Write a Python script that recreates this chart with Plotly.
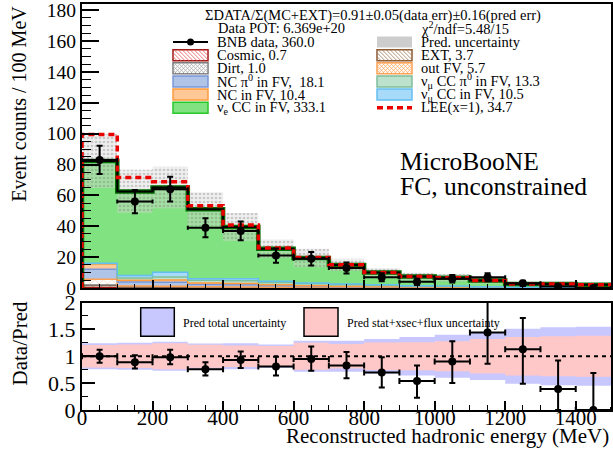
import numpy as np
import plotly.graph_objects as go

# ---------------- data ----------------
bin_edges = [0, 100, 200, 300, 400, 500, 600, 700, 800, 900, 1000, 1100, 1200, 1300, 1400, 1500]
bin_centers = [50, 150, 250, 350, 450, 550, 650, 750, 850, 950, 1050, 1150, 1250, 1350, 1450]
bin_half_width = [50] * 15

cosmic = [0.2, 0.1, 0.1, 0.05, 0.05, 0.05, 0.05, 0.02, 0.02, 0.02, 0.01, 0.01, 0.01, 0.005, 0.005]
ext = [1.5, 0.5, 0.5, 0.3, 0.3, 0.2, 0.1, 0.1, 0.05, 0.05, 0.03, 0.03, 0.02, 0.01, 0.01]
dirt = [0.3, 0.15, 0.15, 0.1, 0.08, 0.06, 0.05, 0.04, 0.03, 0.02, 0.01, 0.01, 0.0, 0.0, 0.0]
out_fv = [3.6, 0.6, 0.4, 0.3, 0.2, 0.15, 0.1, 0.1, 0.08, 0.05, 0.04, 0.03, 0.02, 0.02, 0.01]
nc_pi0 = [6.5, 2.5, 2.5, 1.5, 1.5, 1.0, 0.7, 0.5, 0.4, 0.3, 0.3, 0.2, 0.1, 0.1, 0.0]
nc = [3.5, 1.2, 1.5, 1.0, 0.8, 0.6, 0.5, 0.4, 0.3, 0.2, 0.15, 0.1, 0.05, 0.05, 0.05]
numu_cc_pi0 = [0.3, 1.5, 2.0, 1.8, 1.8, 1.5, 1.2, 1.0, 0.8, 0.5, 0.4, 0.2, 0.15, 0.1, 0.05]
numu_cc = [0.2, 1.5, 3.0, 1.0, 1.2, 0.8, 0.6, 0.5, 0.4, 0.3, 0.3, 0.3, 0.2, 0.1, 0.1]
nue_cc = [66.2, 54.5, 54.9, 45.0, 33.6, 21.1, 16.2, 12.3, 7.9, 6.0, 5.4, 3.9, 2.1, 2.2, 1.8]
lee = [17.2, 9.0, 3.8, 2.3, 1.3, 0.5, 0.3, 0.1, 0.1, 0.05, 0.05, 0.0, 0.0, 0.0, 0.0]
pred_unc = [17.5, 14.0, 13.5, 11.0, 9.0, 6.0, 6.0, 4.0, 3.0, 2.5, 2.5, 2.0, 1.3, 1.4, 1.1]

data_counts = [83, 56, 64, 39, 37, 21, 19, 13, 7, 4, 6, 7, 3, 1, 0]
data_err = [9.1, 7.5, 8.0, 6.2, 6.1, 4.6, 4.4, 3.6, 2.6, 2.0, 2.4, 2.6, 1.7, 1.0, 0.0]

ratio_vals = [1.00, 0.89, 0.98, 0.76, 0.93, 0.81, 0.95, 0.83, 0.70, 0.54, 0.90, 1.44, 1.13, 0.39, 0.00]
ratio_err_hi = [0.12, 0.13, 0.14, 0.13, 0.16, 0.18, 0.23, 0.25, 0.28, 0.29, 0.38, 0.60, 0.58, 0.53, 0.69]
ratio_err_lo = [0.12, 0.12, 0.13, 0.12, 0.15, 0.17, 0.22, 0.24, 0.28, 0.31, 0.40, 0.58, 0.64, 0.39, 0.00]
total_unc_rel = [0.24, 0.25, 0.27, 0.235, 0.24, 0.22, 0.29, 0.29, 0.32, 0.36, 0.40, 0.44, 0.51, 0.54, 0.55]
stat_xs_flux_unc_rel = [0.21, 0.22, 0.24, 0.215, 0.20, 0.19, 0.25, 0.23, 0.255, 0.26, 0.28, 0.32, 0.36, 0.37, 0.38]

header_text = "ΣDATA/Σ(MC+EXT)=0.91±0.05(data err)±0.16(pred err)"
pot_text = "Data POT: 6.369e+20"
chi2_text = "χ<sup>2</sup>/ndf=5.48/15"
left_labels = ["BNB data, 360.0", "Cosmic, 0.7", "Dirt, 1.0", "NC π<sup>0</sup> in FV,  18.1",
               "NC in FV, 10.4", "ν<sub>e</sub> CC in FV, 333.1"]
right_labels = ["Pred. uncertainty", "EXT, 3.7", "out FV, 5.7", "ν<sub>μ</sub> CC π<sup>0</sup> in FV, 13.3",
                "ν<sub>μ</sub> CC in FV, 10.5", "LEE(x=1), 34.7"]

# ---------------- helpers ----------------
FONT = "Liberation Serif"
W, H = 613, 455
L, R, T, B = 82, 611, 4, 410


def px(x):
    return (x - L) / (R - L)


def py(y):
    return (B - y) / (B - T)


def step(vals):
    v = list(vals)
    return v + [v[-1]]


fig = go.Figure()

components = [
    ("Cosmic", cosmic, "rgb(230,80,80)", "rgb(160,20,20)", "\\", 2.0),
    ("EXT", ext, "rgb(160,115,80)", "rgb(140,90,50)", "\\", 1.5),
    ("Dirt", dirt, "rgb(150,150,150)", "rgb(120,120,120)", "x", 1.5),
    ("out FV", out_fv, "rgb(255,160,80)", "rgb(255,160,80)", "x", 1.5),
    ("NC pi0", nc_pi0, "rgb(176,196,232)", "rgb(120,150,215)", None, 1.5),
    ("NC", nc, "rgb(255,200,150)", "rgb(255,155,60)", None, 1.5),
    ("numu CC pi0", numu_cc_pi0, "rgb(188,226,206)", "rgb(125,190,155)", None, 1.5),
    ("numu CC", numu_cc, "rgb(168,218,250)", "rgb(100,190,240)", None, 1.5),
    ("nue CC", nue_cc, "rgb(128,226,128)", "rgb(128,226,128)", None, 0.0),
]

for name, vals, fc, lc, pat, lw in components:
    kw = dict(x=bin_edges, y=step(vals), mode="lines", stackgroup="mc",
              line=dict(shape="hv", color=lc, width=lw), name=name,
              xaxis="x", yaxis="y", showlegend=False, hoverinfo="skip")
    if pat:
        kw["fillpattern"] = dict(shape=pat, fgcolor=fc, bgcolor="white", size=6, solidity=0.2)
    else:
        kw["fillcolor"] = fc
    fig.add_trace(go.Scatter(**kw))

pred_total = np.sum([c[1] for c in components], axis=0)
band_lo = pred_total - np.array(pred_unc)
band_hi = pred_total + np.array(pred_unc)

fig.add_trace(go.Scatter(x=bin_edges, y=step(band_lo), mode="lines", line=dict(shape="hv", width=0),
                         xaxis="x", yaxis="y", showlegend=False, hoverinfo="skip"))
fig.add_trace(go.Scatter(x=bin_edges, y=step(band_hi), mode="lines", line=dict(shape="hv", width=0),
                         fill="tonexty",
                         fillpattern=dict(shape=".", fgcolor="rgba(110,110,110,0.6)",
                                          bgcolor="rgba(215,215,215,0.4)", size=4, solidity=0.35),
                         xaxis="x", yaxis="y", showlegend=False, hoverinfo="skip"))

line_x = [bin_edges[0]] + bin_edges
fig.add_trace(go.Scatter(x=line_x, y=[0] + step(pred_total), mode="lines",
                         line=dict(shape="hv", color="rgb(0,110,0)", width=4.5),
                         xaxis="x", yaxis="y", showlegend=False, hoverinfo="skip"))
fig.add_trace(go.Scatter(x=line_x, y=[0] + step(pred_total), mode="lines",
                         line=dict(shape="hv", color="black", width=2),
                         xaxis="x", yaxis="y", showlegend=False, hoverinfo="skip"))
fig.add_trace(go.Scatter(x=line_x, y=[0] + step(pred_total + np.array(lee)), mode="lines",
                         line=dict(shape="hv", color="rgb(235,0,0)", width=3.5, dash="6px,4px"),
                         xaxis="x", yaxis="y", showlegend=False, hoverinfo="skip"))

fig.add_trace(go.Scatter(x=bin_centers, y=data_counts, mode="markers",
                         marker=dict(color="black", size=8),
                         error_x=dict(type="data", array=bin_half_width, color="black", thickness=2, width=2),
                         error_y=dict(type="data", array=data_err, color="black", thickness=2, width=3),
                         xaxis="x", yaxis="y", showlegend=False, hoverinfo="skip"))

# ---------------- ratio panel ----------------
for rel, col in [(total_unc_rel, "rgb(200,200,255)"), (stat_xs_flux_unc_rel, "rgb(255,200,200)")]:
    lo = 1 - np.array(rel)
    hi = 1 + np.array(rel)
    fig.add_trace(go.Scatter(x=bin_edges, y=step(lo), mode="lines", line=dict(shape="hv", width=0),
                             xaxis="x2", yaxis="y2", showlegend=False, hoverinfo="skip"))
    fig.add_trace(go.Scatter(x=bin_edges, y=step(hi), mode="lines", line=dict(shape="hv", width=0),
                             fill="tonexty", fillcolor=col,
                             xaxis="x2", yaxis="y2", showlegend=False, hoverinfo="skip"))

fig.add_trace(go.Scatter(x=bin_centers, y=ratio_vals, mode="markers",
                         marker=dict(color="black", size=8),
                         error_x=dict(type="data", array=bin_half_width, color="black", thickness=2, width=3),
                         error_y=dict(type="data", symmetric=False, array=ratio_err_hi,
                                      arrayminus=ratio_err_lo, color="black", thickness=2, width=3),
                         xaxis="x2", yaxis="y2", showlegend=False, hoverinfo="skip", cliponaxis=True))

# ---------------- shapes / annotations ----------------
shapes = [dict(type="line", xref="x2", yref="y2", x0=bin_edges[0], x1=bin_edges[-1], y0=1, y1=1,
               line=dict(color="black", width=2, dash="4px,4px"), layer="above")]
annotations = []


def hatch_path(x0, y0, x1, y1, spacing, kind):
    h = y1 - y0
    segs = []
    dirs = ["\\", "/"] if kind == "x" else [kind]
    for d in dirs:
        s = x0 - h
        while s < x1:
            tmin = max(0.0, (x0 - s) / h)
            tmax = min(1.0, (x1 - s) / h)
            if tmax > tmin:
                if d == "\\":
                    ax, ay, bx, by = s + h * tmin, y0 + h * tmin, s + h * tmax, y0 + h * tmax
                else:
                    ax, ay, bx, by = s + h * tmin, y1 - h * tmin, s + h * tmax, y1 - h * tmax
                segs.append(f"M{px(ax):.5f},{py(ay):.5f} L{px(bx):.5f},{py(by):.5f}")
            s += spacing
    return " ".join(segs)


def text(x, y, s, size=14.5, anchor="left", angle=0, yanchor="middle"):
    annotations.append(dict(xref="paper", yref="paper", x=px(x), y=py(y), text=s, showarrow=False,
                            xanchor=anchor, yanchor=yanchor, textangle=angle,
                            font=dict(family=FONT, size=size, color="black")))


def box(x0, x1, yc, fill, border, bw=1.5, pat=None, patcol=None, hh=5.5):
    y0, y1 = yc - hh, yc + hh
    shapes.append(dict(type="rect", xref="paper", yref="paper", x0=px(x0), x1=px(x1), y0=py(y1), y1=py(y0),
                       fillcolor=fill, line=dict(color=border, width=bw), layer="above"))
    if pat:
        shapes.append(dict(type="path", xref="paper", yref="paper", path=hatch_path(x0, y0, x1, y1, 4, pat),
                           line=dict(color=patcol, width=0.8), layer="above"))


rows = [42 + 13.15 * i for i in range(6)]
LX0, LX1, RX0, RX1 = 173, 208, 377, 412
LT, RT = 215, 419

text(203, 15, header_text)
text(216, 28.5, pot_text)
text(RT, 28.5, chi2_text)

# BNB data swatch: horizontal line with a dot
shapes.append(dict(type="rect", xref="paper", yref="paper", x0=px(LX0), x1=px(LX1),
                   y0=py(rows[0] + 1.1), y1=py(rows[0] - 1.1),
                   fillcolor="black", line=dict(color="black", width=0), layer="above"))
shapes.append(dict(type="circle", xref="paper", yref="paper", x0=px(187), x1=px(194), y0=py(rows[0] + 3.5),
                   y1=py(rows[0] - 3.5), fillcolor="black", line=dict(color="black", width=0), layer="above"))
box(LX0, LX1, rows[1], "white", "rgb(160,20,20)", pat="\\", patcol="rgb(230,80,80)")
box(LX0, LX1, rows[2], "white", "rgb(120,120,120)", pat="x", patcol="rgb(170,170,170)")
box(LX0, LX1, rows[3], "rgb(176,196,232)", "rgb(120,150,215)")
box(LX0, LX1, rows[4], "rgb(255,200,150)", "rgb(255,155,60)")
box(LX0, LX1, rows[5], "rgb(128,226,128)", "rgb(40,200,40)")

box(RX0, RX1, rows[0], "rgb(205,205,205)", "rgba(0,0,0,0)", bw=0)
box(RX0, RX1, rows[1], "white", "rgb(140,90,50)", pat="\\", patcol="rgb(160,115,80)")
box(RX0, RX1, rows[2], "white", "rgb(255,160,80)", pat="x", patcol="rgb(255,170,100)")
box(RX0, RX1, rows[3], "rgb(188,226,206)", "rgb(125,190,155)")
box(RX0, RX1, rows[4], "rgb(168,218,250)", "rgb(100,190,240)")
shapes.append(dict(type="line", xref="paper", yref="paper", x0=px(RX0), x1=px(RX1), y0=py(rows[5]), y1=py(rows[5]),
                   line=dict(color="rgb(235,0,0)", width=3.5, dash="6px,4px"), layer="above"))

for i, s in enumerate(left_labels):
    text(LT, rows[i], s)
for i, s in enumerate(right_labels):
    text(RT, rows[i], s)

# MicroBooNE label
text(398, 161, "MicroBooNE", size=25.5)
text(398, 186, "FC, unconstrained", size=25.5)

# ratio legend
box(140.7, 174.3, 322, "rgb(200,200,255)", "black", bw=1.5, hh=14.3)
text(181, 322.5, "Pred total uncertainty", size=12)
box(304, 338, 322, "rgb(255,200,200)", "black", bw=1.5, hh=14.3)
text(344.5, 322.5, "Pred stat+xsec+flux uncertainty", size=12)

# axis titles
text(18.3, 103.5, "Event counts / 100 MeV", size=20, anchor="center", angle=-90)
text(19.5, 344, "Data/Pred", size=21, anchor="center", angle=-90)
text(611, 436, "Reconstructed hadronic energy (MeV)", size=21, anchor="right")

# ---------------- layout ----------------
top_bottom = py(288)
ratio_top = py(302.5)

axis_common = dict(showline=True, mirror=True, linecolor="black", linewidth=2, showgrid=False,
                   zeroline=False, ticks="inside", tickcolor="black", tickwidth=1.5,
                   ticklabeloverflow="allow")

fig.update_layout(
    width=W, height=H,
    margin=dict(l=L, r=W - R, t=T, b=H - B, autoexpand=False),
    paper_bgcolor="white", plot_bgcolor="white",
    showlegend=False,
    font=dict(family=FONT, color="black"),
    xaxis=dict(domain=[0, 1], range=[0, 1500], anchor="y", showticklabels=False, dtick=200, ticklen=8,
               minor=dict(dtick=50, ticklen=4, ticks="inside", tickcolor="black", tickwidth=1.2),
               **axis_common),
    yaxis=dict(domain=[top_bottom, 1], range=[0, 184], anchor="x", dtick=20, ticklen=17,
               tickfont=dict(family=FONT, size=19.5),
               minor=dict(dtick=5, ticklen=9, ticks="inside", tickcolor="black", tickwidth=1.2),
               **axis_common),
    xaxis2=dict(domain=[0, 1], range=[0, 1500], anchor="y2", dtick=200, ticklen=9,
                tickfont=dict(family=FONT, size=21), ticklabelstandoff=-12,
                minor=dict(dtick=50, ticklen=5, ticks="inside", tickcolor="black", tickwidth=1.2),
                **axis_common),
    yaxis2=dict(domain=[0, ratio_top], range=[0, 2], anchor="x2", dtick=0.5, ticklen=13,
                tickfont=dict(family=FONT, size=22),
                minor=dict(dtick=0.25, ticklen=6, ticks="inside", tickcolor="black", tickwidth=1.2),
                **axis_common),
    shapes=shapes,
    annotations=annotations,
)

fig.write_html("out.html", config={"displayModeBar": False},
               post_script="document.body.style.margin='0';document.body.style.padding='0';")
